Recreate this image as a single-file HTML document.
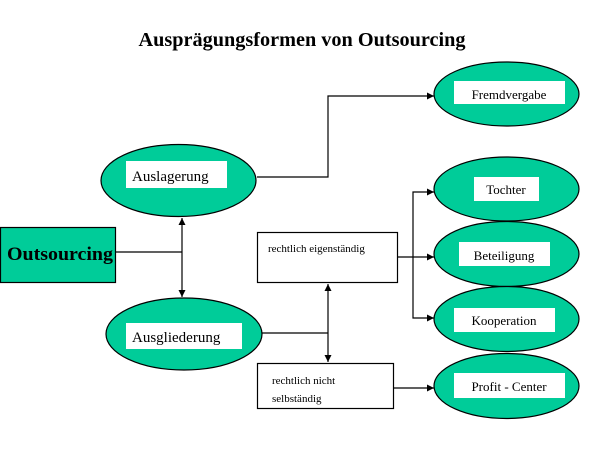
<!DOCTYPE html>
<html><head><meta charset="utf-8"><style>
html,body{margin:0;padding:0;background:#fff;width:605px;height:454px;overflow:hidden}
svg{display:block}
text{font-family:"Liberation Serif",serif;fill:#000}
</style></head><body>
<svg width="605" height="454" viewBox="0 0 605 454" xmlns="http://www.w3.org/2000/svg">
<defs>
<marker id="a" viewBox="0 0 10 10" refX="10" refY="5" markerWidth="7" markerHeight="7" orient="auto-start-reverse" markerUnits="userSpaceOnUse"><path d="M0,0 L10,5 L0,10 z" fill="#000"/></marker>
</defs>
<text x="302" y="46" font-size="20" font-weight="bold" text-anchor="middle" textLength="327" lengthAdjust="spacingAndGlyphs">Ausprägungsformen von Outsourcing</text>
<g stroke="#000" stroke-width="1.2" fill="none">
<polyline points="257,177 328,177 328,96 434,96" marker-end="url(#a)"/>
<line x1="115" y1="252" x2="182" y2="252"/>
<line x1="182" y1="218" x2="182" y2="297" marker-start="url(#a)" marker-end="url(#a)"/>
<line x1="261" y1="333" x2="328" y2="333"/>
<line x1="328" y1="284" x2="328" y2="362" marker-start="url(#a)" marker-end="url(#a)"/>
<line x1="397" y1="257" x2="434" y2="257" marker-end="url(#a)"/>
<polyline points="434,192 413,192 413,318 434,318" marker-start="url(#a)" marker-end="url(#a)"/>
<line x1="393" y1="388" x2="434" y2="388" marker-end="url(#a)"/>
</g>
<g fill="#00CC99" stroke="#000" stroke-width="1.2">
<rect x="0.5" y="227.5" width="115" height="55"/>
<ellipse cx="178.5" cy="180.5" rx="77.5" ry="36"/>
<ellipse cx="184" cy="334" rx="78" ry="36"/>
<ellipse cx="506.5" cy="94" rx="72.5" ry="32"/>
<ellipse cx="506.5" cy="189" rx="72.5" ry="32"/>
<ellipse cx="506.5" cy="254" rx="72.5" ry="32.5"/>
<ellipse cx="506.5" cy="319" rx="72.5" ry="32.5"/>
<ellipse cx="506.5" cy="386" rx="72.5" ry="32.5"/>
</g>
<g fill="#fff" stroke="#000" stroke-width="1.2">
<rect x="257.5" y="232.5" width="140" height="50"/>
<rect x="257.5" y="363.5" width="136" height="45"/>
</g>
<g fill="#fff">
<rect x="126" y="161" width="101" height="27"/>
<rect x="126" y="323" width="116" height="26"/>
<rect x="454" y="81" width="111" height="23"/>
<rect x="474" y="177" width="65" height="24"/>
<rect x="459" y="242" width="91" height="24"/>
<rect x="454" y="308" width="101" height="24"/>
<rect x="454" y="373" width="111" height="25"/>
</g>
<text x="7" y="260" font-size="19" font-weight="bold" textLength="106" lengthAdjust="spacingAndGlyphs">Outsourcing</text>
<text x="132" y="181" font-size="15">Auslagerung</text>
<text x="132" y="342" font-size="15">Ausgliederung</text>
<text x="509" y="99" font-size="13" text-anchor="middle">Fremdvergabe</text>
<text x="506" y="194" font-size="13" text-anchor="middle">Tochter</text>
<text x="504" y="260" font-size="13" text-anchor="middle">Beteiligung</text>
<text x="504" y="325" font-size="13" text-anchor="middle">Kooperation</text>
<text x="509" y="391" font-size="13" text-anchor="middle">Profit - Center</text>
<text x="268" y="252" font-size="11">rechtlich eigenständig</text>
<text x="272" y="384" font-size="11">rechtlich nicht</text>
<text x="272" y="402" font-size="11">selbständig</text>
</svg>
</body></html>
